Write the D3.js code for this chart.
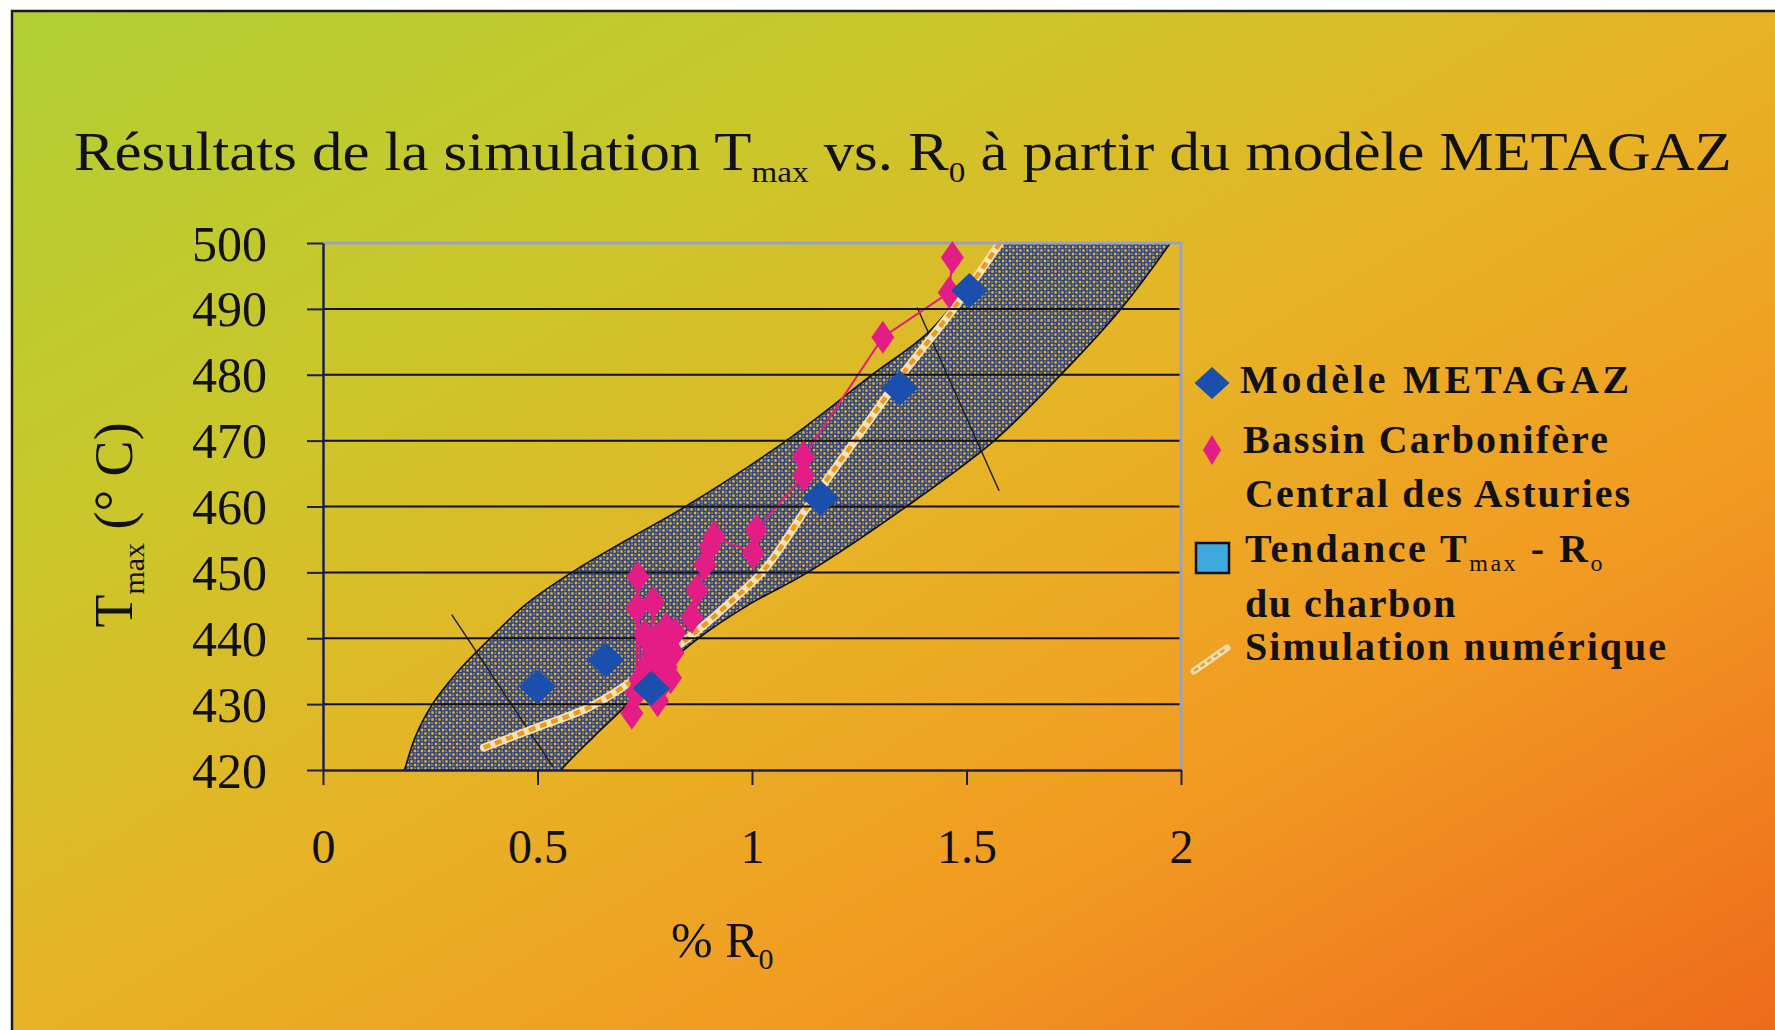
<!DOCTYPE html>
<html>
<head>
<meta charset="utf-8">
<script src="https://cdn.jsdelivr.net/npm/d3@7"></script>
<style>
  html, body { margin: 0; padding: 0; background: #ffffff; }
  svg { display: block; }
  text { font-family: "Liberation Serif", "Times New Roman", serif; fill: #111; }
</style>
</head>
<body>
<script>
// ---- Data -------------------------------------------------------------
// Modèle METAGAZ (blue diamonds)
const roMetagaz   = [0.50, 0.66, 0.765, 1.16, 1.345, 1.507];
const tmaxMetagaz = [432.6, 436.7, 432.4, 461.3, 478.0, 492.8];

// Bassin Carbonifère Central des Asturies (pink diamonds, joined in Ro order)
const roBassin   = [0.72, 0.73, 0.732, 0.734, 0.739, 0.75, 0.76, 0.77, 0.775, 0.78, 0.785, 0.79, 0.795, 0.80, 0.80,
                    0.81, 0.816, 0.82, 0.86, 0.872, 0.89, 0.902, 0.912, 1.003, 1.01, 1.12, 1.12, 1.305, 1.46, 1.467];
const tmaxBassin = [428.6, 431.7, 444.6, 449.3, 433.7, 440.5, 436.0, 445.5, 438.0, 430.5, 440.2, 433.0, 438.5, 435.6, 441.5,
                    434.0, 437.8, 440.8, 443.2, 447.3, 451.2, 453.9, 455.4, 452.9, 456.4, 464.7, 467.5, 485.7, 492.5, 497.8];

// Simulation numérique (dashed curve)
const roSimulation   = [0.375, 0.50, 0.62, 0.72, 0.80, 0.87, 0.95, 1.03, 1.13, 1.24, 1.35, 1.47, 1.578];
const tmaxSimulation = [423.4, 426.5, 429.5, 433.5, 437.5, 441.0, 445.5, 450.5, 460.0, 470.0, 480.0, 490.0, 500.0];

// Tendance Tmax - Ro du charbon (shaded band: upper-left and lower-right edges)
const roBandUpper   = [0.175, 0.19, 0.215, 0.255, 0.315, 0.39, 0.47, 0.58, 0.71, 0.845, 1.08, 1.28, 1.42, 1.57, 1.585];
const tmaxBandUpper = [417, 420, 425, 430, 435, 440, 445, 450, 455, 460, 470, 480, 487, 500, 502];
const roBandLower   = [2.00, 1.975, 1.86, 1.72, 1.565, 1.36, 1.13, 0.99, 0.875, 0.785, 0.71, 0.63, 0.555, 0.535];
const tmaxBandLower = [502.5, 500, 490, 480, 470, 460, 450, 445, 440, 435, 430, 425, 420, 418];

// Width markers drawn across the band
const roMarkers   = [[0.30, 0.536], [1.385, 1.576]];
const tmaxMarkers = [[443.6, 420.5], [490.2, 462.4]];

// Axes
const xTicks = [0, 0.5, 1, 1.5, 2];
const xTickLabels = ["0", "0.5", "1", "1.5", "2"];
const yTicks = [420, 430, 440, 450, 460, 470, 480, 490, 500];
const yTickLabels = ["420", "430", "440", "450", "460", "470", "480", "490", "500"];

// ---- Layout -----------------------------------------------------------
const W = 1775, H = 1030;
const plot = { left: 323, right: 1181, top: 243, bottom: 770 };

const svg = d3.select("body").append("svg").attr("width", W).attr("height", H);
const defs = svg.append("defs");

// slide background
const grad = defs.append("linearGradient").attr("id", "bg")
  .attr("x1", 0).attr("y1", 0).attr("x2", 1).attr("y2", 1);
[[0, "#b0cf33"], [0.28, "#cbc62b"], [0.5, "#e7b326"], [0.72, "#f29a22"], [1, "#ee6a1c"]]
  .forEach(([o, c]) => grad.append("stop").attr("offset", o).attr("stop-color", c));

// dotted texture of the band
const pat = defs.append("pattern").attr("id", "bandTex")
  .attr("patternUnits", "userSpaceOnUse").attr("width", 7).attr("height", 7);
pat.append("path")
  .attr("d", "M0,0h7v7h-7z M0.8,0.8h2.4v2.4h-2.4z M4.3,4.3h2.4v2.4h-2.4z")
  .attr("fill", "#33437a").attr("fill-rule", "evenodd");
pat.append("rect").attr("x", 4.3).attr("y", 1.3).attr("width", 1.6).attr("height", 1.6).attr("fill", "#8393bd");
pat.append("rect").attr("x", 1.3).attr("y", 4.6).attr("width", 1.6).attr("height", 1.6).attr("fill", "#8393bd");

defs.append("clipPath").attr("id", "plotClip").append("rect")
  .attr("x", plot.left).attr("y", plot.top)
  .attr("width", plot.right - plot.left).attr("height", plot.bottom - plot.top);

svg.append("rect").attr("x", 12).attr("y", 11).attr("width", W - 12).attr("height", H - 11)
  .attr("fill", "url(#bg)");
svg.append("path").attr("d", `M12,${H} V11 H${W}`).attr("fill", "none")
  .attr("stroke", "#1a1a1a").attr("stroke-width", 2.5);

// ---- Scales -----------------------------------------------------------
const x = d3.scaleLinear().domain([0, 2]).range([plot.left, plot.right]);
const y = d3.scaleLinear().domain([420, 500]).range([plot.bottom, plot.top]);

// ---- Title ------------------------------------------------------------
function stretchTo(g, x0, y0, width) {
  const w = g.node().getBBox().width;
  g.attr("transform", `translate(${x0},${y0}) scale(${width / w},1)`);
}
const titleG = svg.append("g");
const title = titleG.append("text").attr("x", 0).attr("y", 0).style("font-size", "55px");
title.append("tspan").text("Résultats de la simulation T");
title.append("tspan").attr("dy", 12).style("font-size", "30px").text("max");
title.append("tspan").attr("dy", -12).text(" vs. R");
title.append("tspan").attr("dy", 12).style("font-size", "30px").text("0");
title.append("tspan").attr("dy", -12).text(" à partir du modèle METAGAZ");
stretchTo(titleG, 74, 170, 1658);

// ---- Plot -------------------------------------------------------------
const chart = svg.append("g");
const bandPathUpper = d3.line().curve(d3.curveCatmullRom.alpha(0.5))
  .x((d, i) => x(roBandUpper[i])).y(d => y(d));
const bandPathLower = d3.line().curve(d3.curveCatmullRom.alpha(0.5))
  .x((d, i) => x(roBandLower[i])).y(d => y(d));
const bandD = bandPathUpper(tmaxBandUpper) + "L" + bandPathLower(tmaxBandLower).slice(1) + "Z";

const plotG = chart.append("g").attr("clip-path", "url(#plotClip)");
plotG.append("path").attr("d", bandD)
  .attr("fill", "url(#bandTex)")
  .attr("stroke", "#111").attr("stroke-width", 1.6);

// horizontal gridlines
chart.append("g").selectAll("line").data(yTicks.filter(v => v > 420 && v < 500)).join("line")
  .attr("x1", plot.left).attr("x2", plot.right)
  .attr("y1", d => y(d)).attr("y2", d => y(d))
  .attr("stroke", "#111").attr("stroke-width", 2);

// band width markers
plotG.append("g").selectAll("line").data(roMarkers).join("line")
  .attr("x1", d => x(d[0])).attr("x2", d => x(d[1]))
  .attr("y1", (d, i) => y(tmaxMarkers[i][0])).attr("y2", (d, i) => y(tmaxMarkers[i][1]))
  .attr("stroke", "#1a1a1a").attr("stroke-width", 1.4);

// plot frame (top / right)
chart.append("path")
  .attr("d", `M${plot.left},${plot.top} H${plot.right} V${plot.bottom}`)
  .attr("fill", "none").attr("stroke", "#97a3c6").attr("stroke-width", 3);

// ---- Simulation curve ------------------------------------------------
const simLine = d3.line().curve(d3.curveCatmullRom.alpha(0.5))
  .x((d, i) => x(roSimulation[i])).y(d => y(d));
plotG.append("path").attr("d", simLine(tmaxSimulation))
  .attr("fill", "none").attr("stroke", "#f6e3b4").attr("stroke-width", 8).attr("stroke-linecap", "round");
plotG.append("path").attr("d", simLine(tmaxSimulation))
  .attr("fill", "none").attr("stroke", "#e89a24").attr("stroke-width", 4.5)
  .attr("stroke-dasharray", "7,5");

// ---- Bassin series ----------------------------------------------------
const bassinLine = d3.line().x((d, i) => x(roBassin[i])).y(d => y(d));
plotG.append("path").attr("d", bassinLine(tmaxBassin))
  .attr("fill", "none").attr("stroke", "#e0207e").attr("stroke-width", 2);

const diamond = (hw, hh) => `M0,${-hh} L${hw},0 L0,${hh} L${-hw},0 Z`;
chart.append("g").selectAll("path").data(tmaxBassin).join("path")
  .attr("d", diamond(11.5, 16.5))
  .attr("transform", (d, i) => `translate(${x(roBassin[i])},${y(d)})`)
  .attr("fill", "#e41d86");

// ---- METAGAZ series ---------------------------------------------------
chart.append("g").selectAll("path").data(tmaxMetagaz).join("path")
  .attr("d", diamond(18.5, 17.5))
  .attr("transform", (d, i) => `translate(${x(roMetagaz[i])},${y(d)})`)
  .attr("fill", "#1a4fae");

// ---- Axes -------------------------------------------------------------
const yAxis = d3.axisLeft(y).tickValues(yTicks).tickSize(16).tickSizeOuter(0)
  .tickFormat((d, i) => yTickLabels[i]).tickPadding(40);
const yAx = chart.append("g").attr("transform", `translate(${plot.left},0)`).call(yAxis);
yAx.select(".domain").attr("stroke", "#1b1f52").attr("stroke-width", 2.5);
yAx.selectAll(".tick line").attr("stroke", "#1b1f52").attr("stroke-width", 2);
yAx.selectAll(".tick text").style("font-size", "50px").attr("fill", "#111")
  .attr("font-family", null).attr("dy", "0.34em");

const xAxis = d3.axisBottom(x).tickValues(xTicks).tickSize(15).tickSizeOuter(0)
  .tickFormat((d, i) => xTickLabels[i]).tickPadding(44);
const xAx = chart.append("g").attr("transform", `translate(0,${plot.bottom})`).call(xAxis);
xAx.select(".domain").attr("stroke", "#1b1f52").attr("stroke-width", 2.5);
xAx.selectAll(".tick line").attr("stroke", "#1b1f52").attr("stroke-width", 2);
xAx.selectAll(".tick text").style("font-size", "48px").attr("fill", "#111")
  .attr("font-family", null);

// axis titles
const yTitle = svg.append("text")
  .attr("transform", "translate(132,525) rotate(-90)")
  .attr("text-anchor", "middle").style("font-size", "54px");
yTitle.append("tspan").text("T");
yTitle.append("tspan").attr("dy", 12).style("font-size", "30px").text("max");
yTitle.append("tspan").attr("dy", -12).text(" (° C)");

const xTitle = svg.append("text").attr("x", 671).attr("y", 957).style("font-size", "50px");
xTitle.append("tspan").text("% R");
xTitle.append("tspan").attr("dy", 12).style("font-size", "30px").text("0");

// ---- Legend -----------------------------------------------------------
const legend = svg.append("g");
function legendText(parts, x0, y0, width) {
  const t = legend.append("text").attr("x", x0).attr("y", y0)
    .style("font-size", "40px").style("font-weight", "bold");
  parts.forEach(p => {
    const s = t.append("tspan").text(p.t);
    if (p.sub) s.attr("dy", 9).style("font-size", "24px").style("font-weight", "normal");
    if (p.up) s.attr("dy", -9);
  });
  const w = t.node().getComputedTextLength();
  const n = parts.reduce((a, p) => a + p.t.length, 0);
  t.attr("letter-spacing", (width - w) / n);
  return t;
}
legendText([{ t: "Modèle METAGAZ" }], 1240, 393, 393);
legendText([{ t: "Bassin Carbonifère" }], 1243, 453, 367);
legendText([{ t: "Central des Asturies" }], 1245, 507, 387);
legendText([{ t: "Tendance T" }, { t: "max", sub: true }, { t: " - R", up: true }, { t: "o", sub: true }], 1245, 562, 360);
legendText([{ t: "du charbon" }], 1245, 617, 212);
legendText([{ t: "Simulation numérique" }], 1245, 660, 423);

legend.append("path").attr("d", diamond(17.5, 16)).attr("transform", "translate(1212,383)").attr("fill", "#1a4fae");
legend.append("path").attr("d", diamond(9, 15)).attr("transform", "translate(1212,450)").attr("fill", "#e41d86");
legend.append("rect").attr("x", 1196).attr("y", 543).attr("width", 33).attr("height", 30)
  .attr("fill", "#3fa8dc").attr("stroke", "#111").attr("stroke-width", 2.5);
legend.append("line").attr("x1", 1194).attr("y1", 671).attr("x2", 1227).attr("y2", 648)
  .attr("stroke", "#f3dfb0").attr("stroke-width", 7).attr("stroke-linecap", "round");
legend.append("line").attr("x1", 1194).attr("y1", 671).attr("x2", 1227).attr("y2", 648)
  .attr("stroke", "#d9a24a").attr("stroke-width", 2.5).attr("stroke-dasharray", "5,3");
</script>
</body>
</html>
